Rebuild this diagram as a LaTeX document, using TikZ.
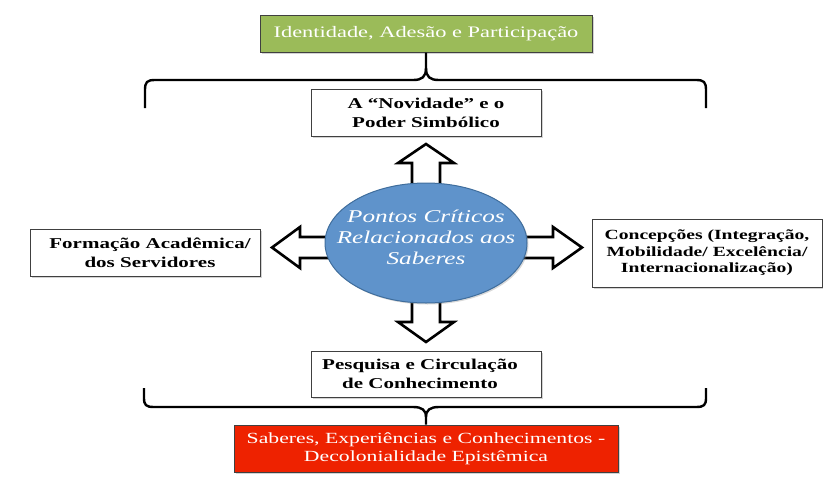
\documentclass[tikz,border=0pt]{standalone}
\usepackage{fontspec}
\setmainfont{Liberation Serif}[FakeStretch=1.4]
\usetikzlibrary{shapes.geometric,shadows}
\definecolor{titlegreen}{HTML}{9BBB59}
\definecolor{titlered}{HTML}{EE2200}
\definecolor{ellfill}{HTML}{5F93CB}
\definecolor{elldraw}{HTML}{3F6D9C}
\begin{document}
\begin{tikzpicture}[x=1pt,y=-1pt,
  box/.style={draw=black!75, line width=1pt, fill=white, align=center, inner sep=0pt,
    drop shadow={shadow xshift=1.5pt, shadow yshift=-1.5pt, opacity=0.35}},
  boldtext/.style={font=\bfseries\fontsize{15}{19}\selectfont},
  colortext/.style={text=white, font=\fontsize{16}{18}\selectfont},
  brace/.style={line width=2.4pt, black},
  blockarrow/.style={draw=black, line width=2.6pt, fill=white, line join=miter},
]
\useasboundingbox (0,0) rectangle (823,477);

% boxes
\node[box, colortext, fill=titlegreen, minimum width=332pt, minimum height=37pt] (ident) at (426,33.5) {Identidade, Adesão e Participação};
\node[box, boldtext, minimum width=230pt, minimum height=47pt] (novidade) at (426,112.5) {A “Novidade” e o\\Poder Simbólico};
\node[box, boldtext, minimum width=230pt, minimum height=47pt] (formacao) at (145,252.5) {\makebox[10pt]{}Formação Acadêmica/\\\makebox[10pt]{}dos Servidores};
\node[box, font=\bfseries\fontsize{14}{16.5}\selectfont, minimum width=230pt, minimum height=68pt] (concep) at (707,253) {Concepções (Integração,\\Mobilidade/ Excelência/\\Internacionalização)};
\node[box, boldtext, minimum width=230pt, minimum height=46pt] (pesquisa) at (426,374) {Pesquisa e Circulação\makebox[12pt]{}\\de Conhecimento\makebox[12pt]{}};
\node[box, colortext, font=\fontsize{15.5}{18}\selectfont, fill=titlered, minimum width=384pt, minimum height=47pt] (saberes) at (426,448.5) {Saberes, Experiências e Conhecimentos -\\Decolonialidade Epistêmica};

% braces
\draw[brace] (145,108) -- (145,90) .. controls (145,82) and (147,80) .. (155,80) -- (413,80) .. controls (422,80) and (426,77) .. (426,68) -- (ident.south);
\draw[brace] (706,108) -- (706,90) .. controls (706,82) and (704,80) .. (696,80) -- (439,80) .. controls (430,80) and (426,77) .. (426,68);
\draw[brace] (144,388) -- (144,398) .. controls (144,405) and (146,407) .. (154,407) -- (413,407) .. controls (422,407) and (426,410) .. (426,417) -- (saberes.north);
\draw[brace] (706,388) -- (706,398) .. controls (706,405) and (704,407) .. (696,407) -- (439,407) .. controls (430,407) and (426,410) .. (426,417);

% block arrows
\draw[blockarrow] (412,192) -- (412,163) -- (398,163) -- (426,144) -- (454,163) -- (440,163) -- (440,192) -- cycle;
\draw[blockarrow] (412,294) -- (412,322) -- (398,322) -- (426,342) -- (454,322) -- (440,322) -- (440,294) -- cycle;
\draw[blockarrow] (334,237) -- (300,237) -- (300,227) -- (272,247.5) -- (300,268) -- (300,258) -- (334,258) -- cycle;
\draw[blockarrow] (518,237) -- (553,237) -- (553,227) -- (582,247.5) -- (553,268) -- (553,258) -- (518,258) -- cycle;

% centre ellipse
\node[ellipse, draw=elldraw, line width=1pt, fill=ellfill, minimum width=202pt, minimum height=120pt, inner xsep=-22pt, inner ysep=0pt, align=center, text=white, font=\itshape\fontsize{18}{21}\selectfont,
  drop shadow={shadow xshift=1.5pt, shadow yshift=-1.5pt, opacity=0.3}] (pontos) at (426,243) {Pontos Críticos\\Relacionados aos\\Saberes\\[-10pt]\mbox{}};
\end{tikzpicture}
\end{document}
